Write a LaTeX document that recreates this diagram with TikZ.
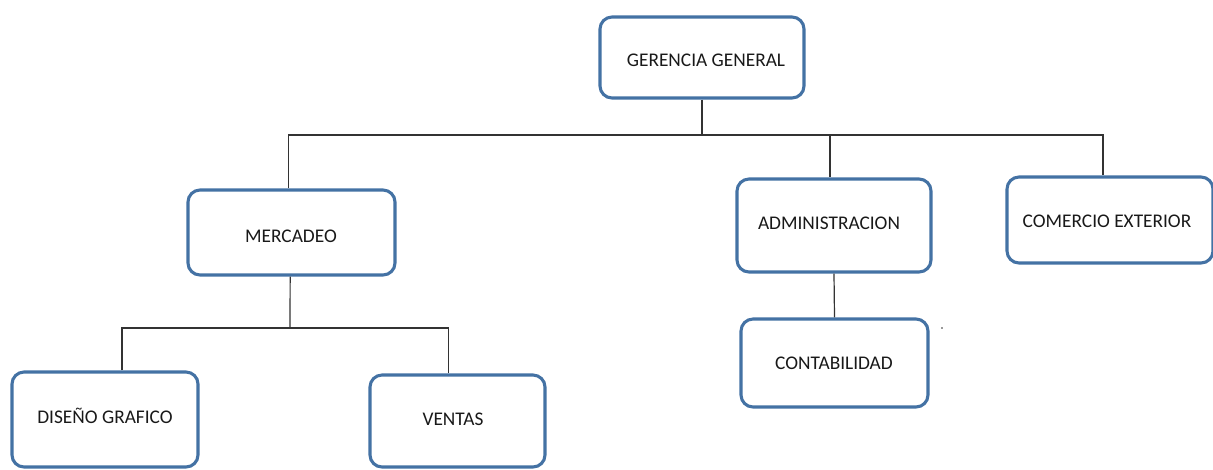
\documentclass[tikz,border=0pt]{standalone}
\usepackage{fontspec}
\setmainfont{Carlito}
\usepackage{tikz}
\usetikzlibrary{positioning, calc}
\definecolor{boxblue}{RGB}{68,114,164}

\begin{document}
\begin{tikzpicture}[x=0.75pt, y=-0.75pt,
	box/.style={draw=boxblue, line width=2.3pt, rounded corners=9pt, fill=white, inner sep=0pt},
	lbl/.style={font=\fontsize{14.5}{17}\selectfont, text=black!90, inner sep=0pt},
	conn/.style={draw=black!80, line width=0.9pt}]
	\useasboundingbox (0,0) rectangle (1213,469);
	% cajas
	\node[box, minimum width=204*0.75pt, minimum height=81*0.75pt] (ger) at (702,57.5) {};
	\node[box, minimum width=207*0.75pt, minimum height=85*0.75pt] (mer) at (291.5,232.5) {};
	\node[box, minimum width=194*0.75pt, minimum height=93*0.75pt] (adm) at (834,225.5) {};
	\node[box, minimum width=206*0.75pt, minimum height=86*0.75pt] (com) at (1110,220) {};
	\node[box, minimum width=187*0.75pt, minimum height=88*0.75pt] (con) at (834.5,363) {};
	\node[box, minimum width=186*0.75pt, minimum height=95*0.75pt] (dis) at (105,419.5) {};
	\node[box, minimum width=175*0.75pt, minimum height=92*0.75pt] (ven) at (457.5,421) {};
	% textos
	\node[lbl] (gert) at (706,60) {GERENCIA GENERAL};
	\node[lbl] (mert) at (291,236) {MERCADEO};
	\node[lbl] (admt) at (829,223) {ADMINISTRACION};
	\node[lbl] (comt) at (1107,221) {COMERCIO EXTERIOR};
	\node[lbl] (cont) at (834,363) {CONTABILIDAD};
	\node[lbl] (dist) at (105,416) {DISEÑO GRAFICO};
	\node[lbl] (vent) at (453,419) {VENTAS};
	\node[fill=black!80, circle, inner sep=0.5pt] (pt) at (942,328) {};
	% lineas
	\coordinate (bus1) at (702,135);
	\coordinate (bus2) at (290,328);
	\draw[conn] (ger.south) -- (bus1);
	\draw[conn] ([xshift=-2pt]mer.north) |- (bus1) -| ([xshift=-5.25pt]com.north);
	\draw[conn] (bus1) -| ([xshift=-3pt]adm.north);
	\draw[conn] ([xshift=-1pt]mer.south) -- (bus2);
	\draw[conn] ([xshift=12.75pt]dis.north) |- (bus2) -| ([xshift=-7pt]ven.north);
	\draw[conn] (adm.south) -- (con.north);
\end{tikzpicture}
\end{document}
